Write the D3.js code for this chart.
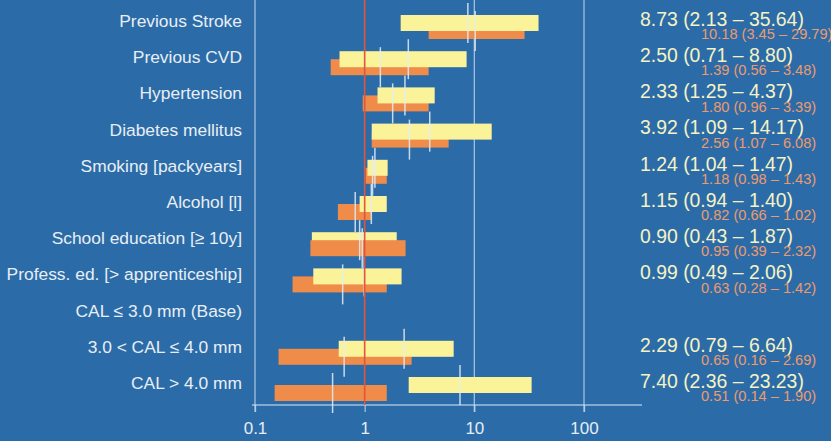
<!DOCTYPE html>
<html>
<head>
<meta charset="utf-8">
<script src="https://cdn.jsdelivr.net/npm/d3@7"></script>
<style>
  html, body { margin: 0; padding: 0; background: #2b6ca8; }
  svg { display: block; font-family: "Liberation Sans", Arial, sans-serif; }
</style>
</head>
<body>
<div class="canvas"></div>
<script>
// rows, top to bottom
const labels = ["Previous Stroke", "Previous CVD", "Hypertension", "Diabetes mellitus",
  "Smoking [packyears]", "Alcohol [l]", "School education [\u2265 10y]",
  "Profess. ed. [> apprenticeship]", "CAL \u2264 3.0 mm (Base)",
  "3.0 < CAL \u2264 4.0 mm", "CAL > 4.0 mm"]

// yellow series: odds ratio with 95% CI (as printed)
const orYellow = [8.73, 2.50, 2.33, 3.92, 1.24, 1.15, 0.90, 0.99, null, 2.29, 7.40]
const loYellow = [2.13, 0.71, 1.25, 1.09, 1.04, 0.94, 0.43, 0.49, null, 0.79, 2.36]
const hiYellow = [35.64, 8.80, 4.37, 14.17, 1.47, 1.40, 1.87, 2.06, null, 6.64, 23.23]

// orange series (as printed)
const orOrange = [10.18, 1.39, 1.80, 2.56, 1.18, 0.82, 0.95, 0.63, null, 0.65, 0.51]
const loOrange = [3.45, 0.56, 0.96, 1.07, 0.98, 0.66, 0.39, 0.28, null, 0.16, 0.14]
const hiOrange = [29.79, 3.48, 3.39, 6.08, 1.43, 1.02, 2.32, 1.42, null, 2.69, 1.90]

// bar ends as they are drawn in the figure (don't always match the printed CI)
const barLoYellow = [2.13, 0.59, 1.31, 1.16, 1.06, 0.90, 0.33, 0.34, null, 0.58, 2.52]
const barHiYellow = [38.5, 8.5, 4.35, 14.4, 1.62, 1.59, 1.96, 2.17, null, 6.48, 33.3]
const barLoOrange = [3.83, 0.49, 0.96, 1.16, 1.02, 0.57, 0.32, 0.22, null, 0.164, 0.151]
const barHiOrange = [28.7, 3.83, 3.83, 5.83, 1.59, 1.15, 2.36, 1.59, null, 2.68, 1.59]

const tickValues = [0.1, 1, 10, 100]

const width = 831, height = 441
const svg = d3.select(".canvas").append("svg")
  .attr("width", width).attr("height", height)

svg.append("rect").attr("width", width).attr("height", height).attr("fill", "#2b6ca8")

const x = d3.scaleLog().domain([0.1, 100]).range([255, 584])
const y = d3.scalePoint().domain(labels).range([23, 385])

const fmt = d3.format(".2f")
const barH = 16, offs = 8

const rows = labels.map((l, i) => ({
  label: l,
  yel: orYellow[i] == null ? null : {or: orYellow[i], lo: loYellow[i], hi: hiYellow[i], bl: barLoYellow[i], bh: barHiYellow[i]},
  org: orOrange[i] == null ? null : {or: orOrange[i], lo: loOrange[i], hi: hiOrange[i], bl: barLoOrange[i], bh: barHiOrange[i]}
}))

// grid lines
const axisY = 405
const gridCol = "#c9dcef"
svg.selectAll(".grid").data(tickValues.filter(d => d != 1))
  .enter().append("line")
  .attr("x1", d => x(d)).attr("x2", d => x(d))
  .attr("y1", 0).attr("y2", axisY + 7)
  .attr("stroke", gridCol).attr("stroke-opacity", 0.75).attr("stroke-width", 1.3)

// axis
const xAxis = d3.axisBottom(x).tickValues(tickValues).tickFormat(d => d).tickSize(7).tickPadding(10)
const ax = svg.append("g").attr("transform", `translate(0,${axisY})`).call(xAxis)
ax.select(".domain").remove()
ax.append("line").attr("x1", 252).attr("x2", 642)
  .attr("stroke", gridCol).attr("stroke-opacity", 0.75).attr("stroke-width", 1.3)
ax.selectAll(".tick line").attr("stroke", gridCol).attr("stroke-opacity", 0.75).attr("stroke-width", 1.3)
ax.selectAll(".tick text").attr("fill", "#e6edf5").attr("font-size", 17)
  .attr("font-family", "Liberation Sans, Arial, sans-serif")

// bars
const yellow = "#fbf39a", orange = "#ef8c4a"
function drawBar(g, d, top, fill) {
  g.append("rect")
    .attr("x", x(d.bl)).attr("width", x(d.bh) - x(d.bl))
    .attr("y", top).attr("height", barH).attr("fill", fill)
}
function drawMid(g, d, top) {
  g.append("line")
    .attr("x1", x(d.or)).attr("x2", x(d.or))
    .attr("y1", top - 12).attr("y2", top + barH + 12)
    .attr("stroke", "#e4ecf6").attr("stroke-opacity", 0.85).attr("stroke-width", 1.5)
}

const barsG = svg.append("g")
rows.forEach(r => {
  if (!r.yel) return
  const c = y(r.label)
  const topY = c - barH / 2, topO = c - barH / 2 + offs
  // the narrower bar goes on top
  const orgInside = r.org.bl <= r.yel.bl && r.org.bh >= r.yel.bh
  if (orgInside) {
    drawBar(barsG, r.yel, topY, yellow)
    drawBar(barsG, r.org, topO, orange)
  } else {
    drawBar(barsG, r.org, topO, orange)
    drawBar(barsG, r.yel, topY, yellow)
  }
})
rows.forEach(r => {
  if (!r.yel) return
  const c = y(r.label)
  drawMid(barsG, r.yel, c - barH / 2)
  drawMid(barsG, r.org, c - barH / 2 + offs)
})

// reference line at 1
svg.append("line")
  .attr("x1", x(1)).attr("x2", x(1)).attr("y1", 0).attr("y2", axisY)
  .attr("stroke", "#e0553c").attr("stroke-width", 1.6)

// row labels
svg.selectAll(".lab").data(labels).enter().append("text")
  .attr("x", 242).attr("y", d => y(d) - 2)
  .attr("dy", "0.35em").attr("text-anchor", "end")
  .attr("font-size", 17.4).attr("fill", "#e9eef4")
  .text(d => d)

// values on the right
rows.forEach(r => {
  if (!r.yel) return
  const c = y(r.label)
  svg.append("text").attr("x", 640).attr("y", c - 4).attr("dy", "0.35em")
    .attr("font-size", 19.4).attr("fill", "#f6f2c4")
    .text(`${fmt(r.yel.or)} (${fmt(r.yel.lo)} \u2013 ${fmt(r.yel.hi)})`)
  svg.append("text").attr("x", 701).attr("y", c + 11).attr("dy", "0.35em")
    .attr("font-size", 14.6).attr("fill", "#ee9a6c")
    .text(`${fmt(r.org.or)} (${fmt(r.org.lo)} \u2013 ${fmt(r.org.hi)})`)
})
</script>
</body>
</html>
